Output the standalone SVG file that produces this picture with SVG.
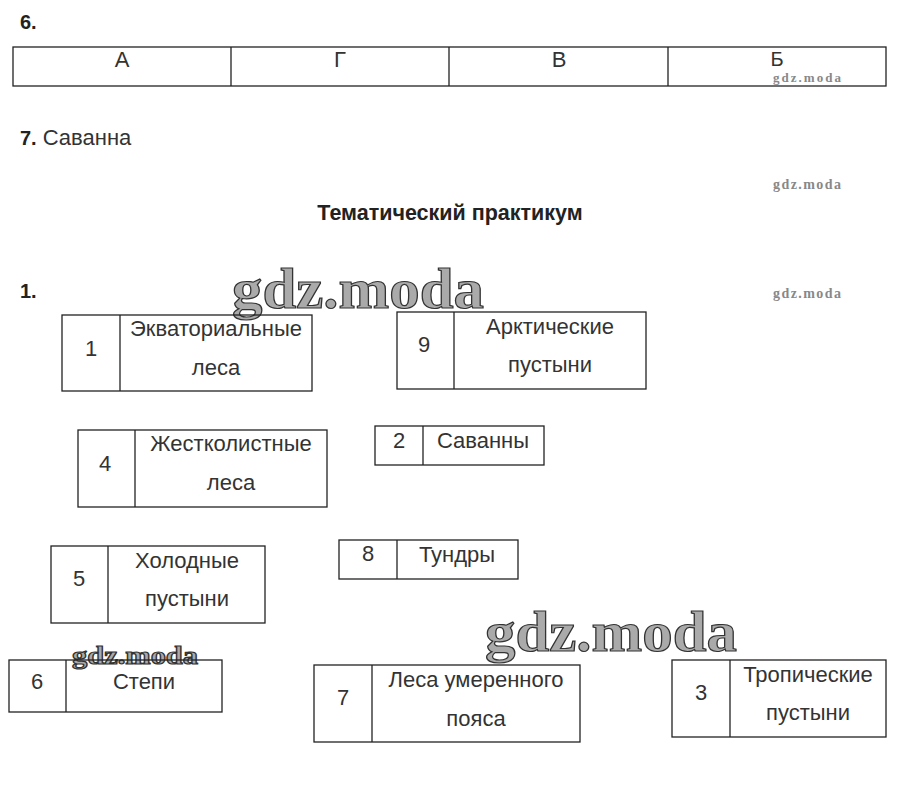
<svg xmlns="http://www.w3.org/2000/svg" width="903" height="796" viewBox="0 0 903 796">
<style>
.bx{fill:none;stroke:#222;stroke-width:1.3}
.t{font-family:"Liberation Sans",Arial,sans-serif;font-size:22px;fill:#333;text-anchor:middle}
.h{font-family:"Liberation Sans",Arial,sans-serif;font-size:20px;fill:#222;font-weight:bold}
.n{font-family:"Liberation Sans",Arial,sans-serif;font-size:22px;fill:#333}
.wm{font-family:"Liberation Serif",serif;font-weight:bold;fill:#888}
.wb{font-family:"Liberation Serif",serif;font-weight:bold;fill:#aaa;stroke:#333;stroke-width:1.2}
</style>
<rect width="903" height="796" fill="#fff"/>
<text class="h" x="20" y="29">6.</text>
<g id="table6">
<rect class="bx" x="13" y="47" width="873" height="39"/>
<path class="bx" d="M231 47V86M449 47V86M668 47V86"/>
<text class="t" x="122" y="67">А</text>
<text class="t" x="340" y="67">Г</text>
<text class="t" x="559" y="67">В</text>
<text class="t" x="777" y="66" style="font-size:20px">Б</text>
</g>
<text x="20" y="145"><tspan class="h">7.</tspan><tspan class="n" dx="6">Саванна</tspan></text>
<text class="h" x="450" y="220" text-anchor="middle" style="font-size:21.5px">Тематический практикум</text>
<text class="h" x="20" y="298">1.</text>
<g id="wm">
<text class="wm" x="773" y="82" font-size="13" textLength="68">gdz.moda</text>
<text class="wm" x="773" y="189" font-size="14" textLength="68">gdz.moda</text>
<text class="wm" x="773" y="298" font-size="14" textLength="68">gdz.moda</text>
<text class="wb" x="232" y="308" font-size="56" textLength="252" lengthAdjust="spacingAndGlyphs">gdz.moda</text>
<text class="wb" x="485" y="651" font-size="56" textLength="252" lengthAdjust="spacingAndGlyphs">gdz.moda</text>
<text class="wb" x="72" y="664" font-size="25" stroke-width="0.6" textLength="126" lengthAdjust="spacingAndGlyphs">gdz.moda</text>
</g>
<g id="n1">
<rect class="bx" x="62" y="315" width="250" height="76"/><path class="bx" d="M120 315V391"/>
<text class="t" x="91" y="356">1</text>
<text class="t" x="216" y="336">Экваториальные</text>
<text class="t" x="216" y="375">леса</text>
</g>
<g id="n9">
<rect class="bx" x="397" y="312" width="249" height="77"/><path class="bx" d="M454 312V389"/>
<text class="t" x="424" y="352">9</text>
<text class="t" x="550" y="334">Арктические</text>
<text class="t" x="550" y="372">пустыни</text>
</g>
<g id="n4">
<rect class="bx" x="78" y="430" width="249" height="77"/><path class="bx" d="M135 430V507"/>
<text class="t" x="105" y="471">4</text>
<text class="t" x="231" y="451">Жестколистные</text>
<text class="t" x="231" y="490">леса</text>
</g>
<g id="n2">
<rect class="bx" x="375" y="426" width="169" height="39"/><path class="bx" d="M423 426V465"/>
<text class="t" x="399" y="448">2</text>
<text class="t" x="483" y="448">Саванны</text>
</g>
<g id="n5">
<rect class="bx" x="51" y="546" width="214" height="77"/><path class="bx" d="M108 546V623"/>
<text class="t" x="79" y="586">5</text>
<text class="t" x="187" y="568">Холодные</text>
<text class="t" x="187" y="606">пустыни</text>
</g>
<g id="n8">
<rect class="bx" x="339" y="540" width="179" height="39"/><path class="bx" d="M397 540V579"/>
<text class="t" x="368" y="561">8</text>
<text class="t" x="457" y="562">Тундры</text>
</g>
<g id="n6">
<rect class="bx" x="9" y="660" width="213" height="52"/><path class="bx" d="M66 660V712"/>
<text class="t" x="37" y="689">6</text>
<text class="t" x="144" y="689">Степи</text>
</g>
<g id="n7">
<rect class="bx" x="314" y="665" width="266" height="77"/><path class="bx" d="M372 665V742"/>
<text class="t" x="343" y="705">7</text>
<text class="t" x="476" y="687">Леса умеренного</text>
<text class="t" x="476" y="726">пояса</text>
</g>
<g id="n3">
<rect class="bx" x="672" y="660" width="214" height="77"/><path class="bx" d="M730 660V737"/>
<text class="t" x="701" y="700">3</text>
<text class="t" x="808" y="682">Тропические</text>
<text class="t" x="808" y="720">пустыни</text>
</g>
<g id="connectors"/>
</svg>
